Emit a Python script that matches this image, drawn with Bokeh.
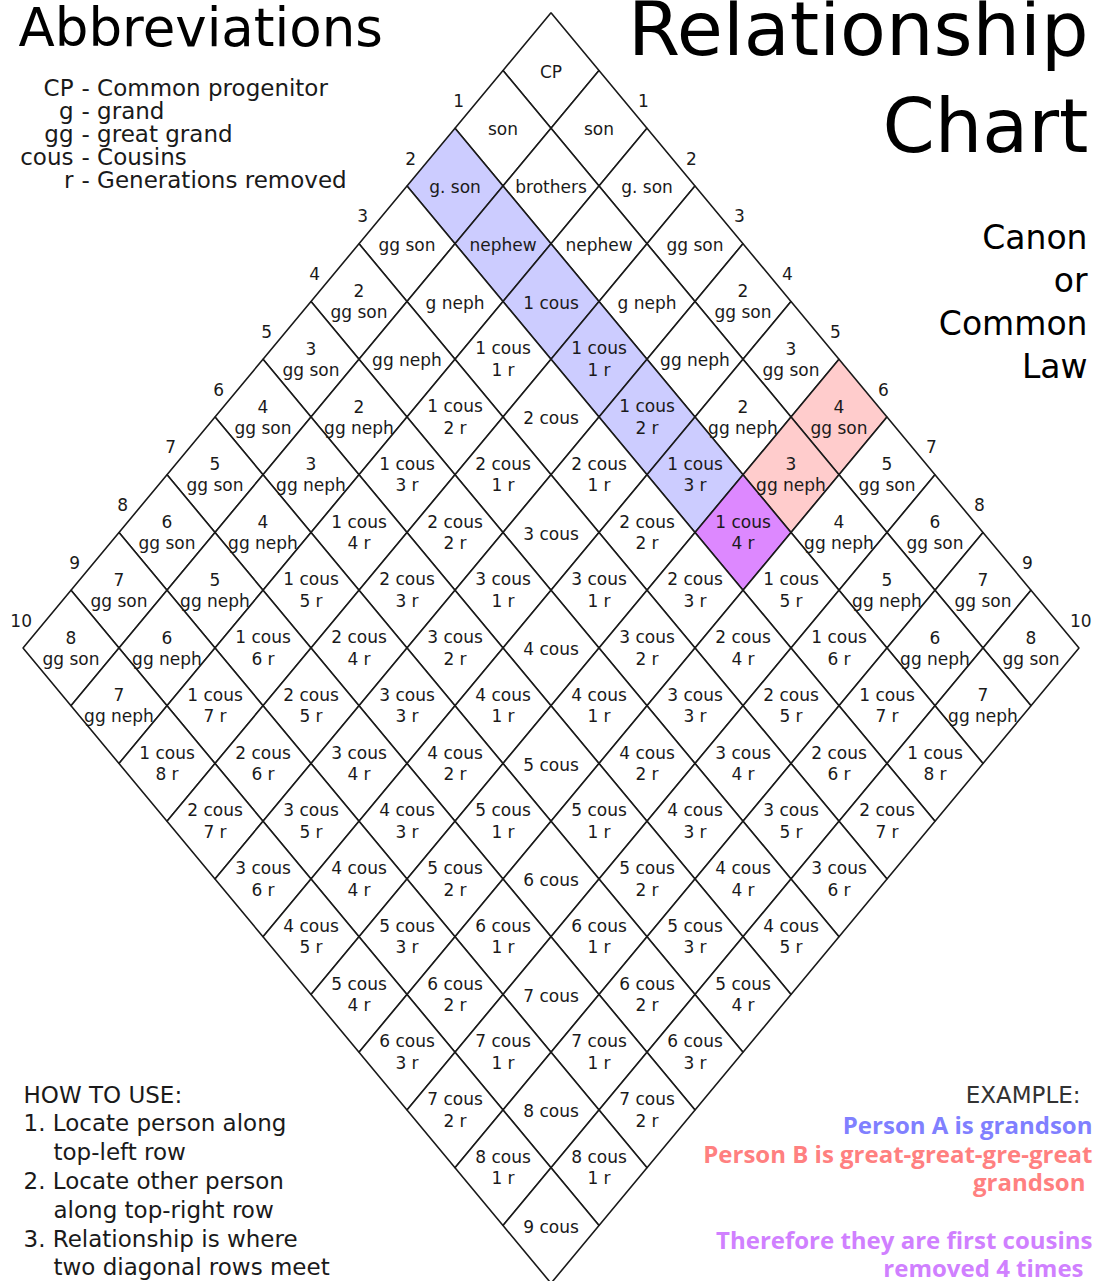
from bokeh.plotting import figure
from bokeh.models import Range1d
from bokeh.embed import file_html
from bokeh.resources import INLINE
from bokeh.core.properties import value

# ---------------- data ----------------
N = 11  # generations 0..10 along each side
lineal = ["CP", "son", "g. son", "gg son", "2\ngg son", "3\ngg son", "4\ngg son",
          "5\ngg son", "6\ngg son", "7\ngg son", "8\ngg son"]
collateral = [None, "brothers", "nephew", "g neph", "gg neph", "2\ngg neph", "3\ngg neph",
              "4\ngg neph", "5\ngg neph", "6\ngg neph", "7\ngg neph"]
side_numbers = [str(k) for k in range(1, 11)]

blue_cells = [(2, 0), (2, 1), (2, 2), (2, 3), (2, 4), (2, 5)]
pink_cells = [(0, 6), (1, 6)]
purple_cells = [(2, 6)]

abbr_keys = ["CP", "g", "gg", "cous", "r"]
abbr_defs = ["- Common progenitor", "- grand", "- great grand", "- Cousins", "- Generations removed"]

howto_lines = ["HOW TO USE:", "1. Locate person along", "top-left row", "2. Locate other person",
               "along top-right row", "3. Relationship is where", "two diagonal rows meet"]
howto_indent = [0, 0, 1, 0, 1, 0, 1]

canon_lines = ["Canon", "or", "Common", "Law"]

example_lines = ["Person A is grandson", "Person B is great-great-gre-great", "grandson",
                 "Therefore they are first cousins", "removed 4 times"]

BLUE_FILL, PINK_FILL, PURPLE_FILL = "#ccccff", "#ffcccc", "#dd88ff"
BLUE_TXT, PINK_TXT, PURPLE_TXT = "#8080ff", "#ff8080", "#d080ff"


def cell_label(i, j):
    lo, hi = min(i, j), max(i, j)
    if lo == 0:
        return lineal[hi]
    if lo == 1:
        return collateral[hi]
    c, r = lo - 1, hi - lo
    return f"{c} cous" if r == 0 else f"{c} cous\n{r} r"


# ---------------- geometry ----------------
W, H = 1094, 1281
CX0, CY0, DX, DY = 550.5, 70.0, 48.0, 57.75
FONT = value("DejaVu Sans")

p = figure(width=W, height=H, x_range=Range1d(0, W), y_range=Range1d(H, 0),
           output_backend="svg", toolbar_location=None, min_border=0,
           x_axis_type=None, y_axis_type=None, background_fill_color="white")
p.grid.visible = False
p.outline_line_color = None

xs, ys, fills = [], [], []
tx, ty, tt = [], [], []
for i in range(N):
    for j in range(N):
        cx = CX0 + DX * (j - i)
        cy = CY0 + DY * (i + j)
        xs.append([cx, cx + DX, cx, cx - DX])
        ys.append([cy - DY, cy, cy + DY, cy])
        if (i, j) in blue_cells:
            fills.append(BLUE_FILL)
        elif (i, j) in pink_cells:
            fills.append(PINK_FILL)
        elif (i, j) in purple_cells:
            fills.append(PURPLE_FILL)
        else:
            fills.append("white")
        parts = cell_label(i, j).split("\n")
        if len(parts) == 1:
            tx.append(cx); ty.append(cy + 1); tt.append(parts[0])
        else:
            tx.append(cx); ty.append(cy - 11); tt.append(parts[0])
            tx.append(cx); ty.append(cy + 10.5); tt.append(parts[1])

p.patches(xs=xs, ys=ys, fill_color=fills, line_color="#1a1a1a", line_width=1.6)
p.text(x=tx, y=ty, text=tt, text_font=FONT, text_font_size="17px",
       text_color="#1a1a1a", text_align="center", text_baseline="middle")

# side numbers
lx, ly, rx, ry = [], [], [], []
for k in range(1, 11):
    cy = CY0 + DY * k
    lx.append(CX0 - DX * k - DX / 2 - 15); ly.append(cy - DY / 2 + 1)
    rx.append(CX0 + DX * k + DX / 2 + 15); ry.append(cy - DY / 2 + 1)
p.text(x=lx, y=ly, text=side_numbers, text_font=FONT, text_font_size="17px",
       text_color="#1a1a1a", text_align="right", text_baseline="middle")
p.text(x=rx, y=ry, text=side_numbers, text_font=FONT, text_font_size="17px",
       text_color="#1a1a1a", text_align="left", text_baseline="middle")

# titles
p.text(x=[18], y=[27], text=["Abbreviations"], text_font=FONT,
       text_font_size="53px", text_color="black", text_align="left", text_baseline="middle")
p.text(x=[1088, 1088], y=[28, 125], text=["Relationship", "Chart"], text_font=FONT,
       text_font_size="75px", text_color="black", text_align="right", text_baseline="middle")
p.text(x=[1087] * 4, y=[237, 280, 323, 366], text=canon_lines, text_font=FONT,
       text_font_size="33px", text_color="black", text_align="right", text_baseline="middle")

# abbreviations
ab_y = [87, 110, 133, 156, 179]
p.text(x=[73] * 5, y=ab_y, text=abbr_keys, text_font=FONT, text_font_size="23px",
       text_color="#1a1a1a", text_align="right", text_baseline="middle")
p.text(x=[81] * 5, y=ab_y, text=abbr_defs, text_font=FONT, text_font_size="23px",
       text_color="#1a1a1a", text_align="left", text_baseline="middle")

# how to use
hy = [1094 + 28.8 * k for k in range(len(howto_lines))]
hx = [23 + 30 * ind for ind in howto_indent]
p.text(x=hx, y=hy, text=howto_lines, text_font=FONT, text_font_size="23px",
       text_color="#1a1a1a", text_align="left", text_baseline="middle")

# example
p.text(x=[1080], y=[1094], text=["EXAMPLE:"], text_font=FONT,
       text_font_size="23px", text_color="#333333", text_align="right", text_baseline="middle")
EX = value("Open Sans")
ex_x = [1092, 1092, 1085, 1092, 1083]
ex_y = [1124, 1153, 1181, 1239, 1267]
ex_c = [BLUE_TXT, PINK_TXT, PINK_TXT, PURPLE_TXT, PURPLE_TXT]
p.text(x=ex_x, y=ex_y, text=example_lines, text_font=EX, text_font_style="bold",
       text_font_size="24px", text_color=ex_c, text_align="right", text_baseline="middle")

open("out.html", "w").write(file_html(p, INLINE))
